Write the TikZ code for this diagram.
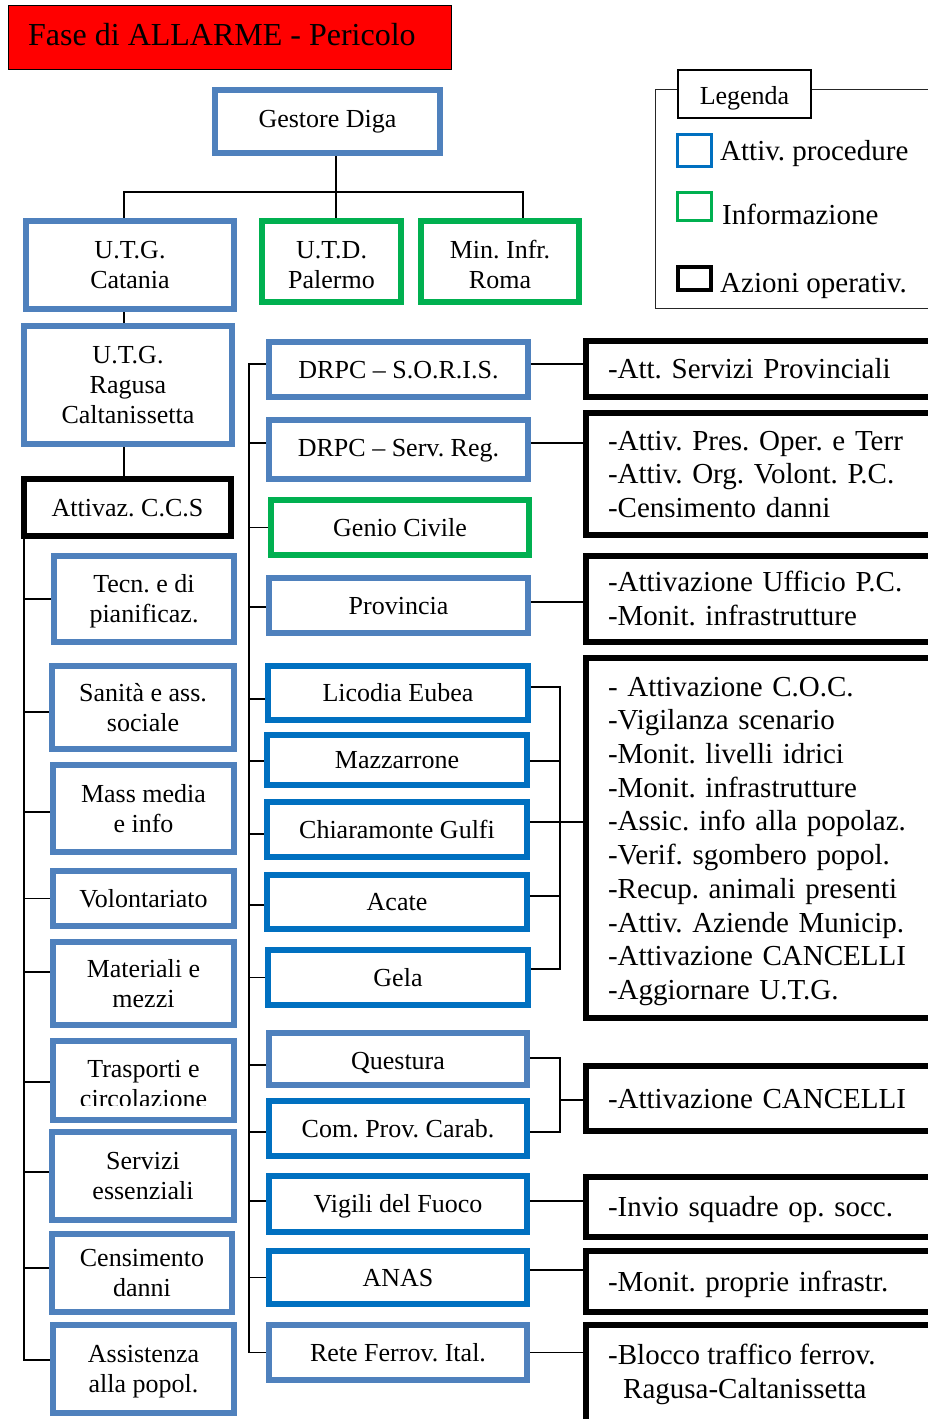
\documentclass[tikz,border=0pt]{standalone}
\usepackage{fontspec}
\setmainfont{Liberation Serif}
\usetikzlibrary{calc}
\definecolor{steelc}{RGB}{79,129,189}
\definecolor{brightc}{RGB}{0,112,192}
\definecolor{greenc}{RGB}{0,176,80}
\newcommand\boxfnt{\fontsize{26}{30}\selectfont}
\newcommand\opfnt{\fontsize{29}{33.7}\selectfont}
\newcommand\legfnt{\fontsize{29}{33}\selectfont}
\newcommand\titlefnt{\fontsize{32}{36}\selectfont}
\newcommand\wstrut{\rule[-0.216em]{0pt}{1.107em}}
\newcommand\W{\wstrut}
\newcommand\Wlow{\rule[-0.216em]{0pt}{35pt}}
\pgfdeclarelayer{bg}
\pgfsetlayers{bg,main}
\frenchspacing
\begin{document}
\begin{tikzpicture}[x=1pt,y=-1pt,
  wtext/.style={execute at end node=\wstrut},
  base/.style={fill=white, line width=6pt, font=\boxfnt, align=center, inner sep=0pt, outer sep=0pt, wtext},
  sbox/.style={base, draw=steelc},
  bbox/.style={base, draw=brightc},
  gbox/.style={base, draw=greenc},
  kbox/.style={base, draw=black},
  obox/.style={draw=black, fill=white, line width=6pt, font=\opfnt, align=left, text width=340pt, inner xsep=22pt, inner ysep=0pt, anchor=west, outer sep=0pt, wtext},
  conn/.style={line width=1.5pt, black},
  legtxt/.style={font=\legfnt, inner sep=0pt, anchor=west, wtext}
]
\useasboundingbox (0,0) rectangle (928,1419);
\clip (0,0) rectangle (928,1419);

% title
\node[draw=black, line width=1pt, fill=red, minimum width=443pt, minimum height=64pt, inner sep=0pt] (title) at (230,37.5) {};
\node[anchor=base west, font=\titlefnt, inner sep=0pt] (titletxt) at (28,45) {Fase di ALLARME - Pericolo};

% top
\node[sbox, minimum width=225pt, minimum height=63pt] (gestore) at (327.5,121.5) {\W\raisebox{2.5pt}{Gestore Diga}};
\node[sbox, minimum width=208pt, minimum height=88pt] (utgc) at (130,265) {\W U.T.G.\\Catania};
\node[gbox, minimum width=139pt, minimum height=81pt] (utd) at (331.5,261.5) {\Wlow U.T.D.\\Palermo};
\node[gbox, minimum width=158pt, minimum height=81pt] (minf) at (500,261.5) {\Wlow Min. Infr.\\Roma};
\node[sbox, minimum width=208pt, minimum height=118pt] (utgr) at (128,385) {\W U.T.G.\\Ragusa\\Caltanissetta};
\node[kbox, minimum width=207pt, minimum height=57pt] (ccs) at (127.5,507.5) {\W Attivaz. C.C.S};

% left column
\node[sbox, minimum width=180pt, minimum height=86pt] (tecn) at (144,599) {\W Tecn. e di\\pianificaz.};
\node[sbox, minimum width=182pt, minimum height=83pt] (sanita) at (143,707.5) {\W Sanità e ass.\\sociale};
\node[sbox, minimum width=181pt, minimum height=87pt] (mass) at (143.5,808.5) {\W Mass media\\e info};
\node[sbox, minimum width=181pt, minimum height=55pt] (volont) at (143.5,898.5) {\W Volontariato};
\node[sbox, minimum width=181pt, minimum height=83pt] (mater) at (143.5,983.5) {\W Materiali e\\mezzi};
\node[sbox, minimum width=181pt, minimum height=79pt] (trasp) at (143.5,1080.5) {};
\begin{scope}
  \clip (50,1041) rectangle (237,1105);
  \node[font=\boxfnt, align=center, inner sep=0pt, wtext] (trasptxt) at (143.5,1083.3) {\W Trasporti e\\circolazione};
\end{scope}
\node[sbox, minimum width=182pt, minimum height=88pt] (serv) at (143,1176) {\W Servizi\\essenziali};
\node[sbox, minimum width=180pt, minimum height=78pt] (cens) at (142,1273) {\W Censimento\\danni};
\node[sbox, minimum width=181pt, minimum height=88pt] (assist) at (143.5,1369) {\W Assistenza\\alla popol.};

% middle column
\node[sbox, minimum width=259pt, minimum height=55pt] (soris) at (398.5,369.5) {\W DRPC – S.O.R.I.S.};
\node[sbox, minimum width=259pt, minimum height=59pt] (servreg) at (398.5,449.5) {\W\raisebox{1.5pt}{DRPC – Serv. Reg.}};
\node[gbox, minimum width=258pt, minimum height=55pt] (genio) at (400,527.5) {\W Genio Civile};
\node[sbox, minimum width=259pt, minimum height=55pt] (prov) at (398.5,605.5) {\W Provincia};
\node[bbox, minimum width=260pt, minimum height=54pt] (licodia) at (398,693) {\W Licodia Eubea};
\node[bbox, minimum width=260pt, minimum height=50pt] (mazz) at (397,760) {\W Mazzarrone};
\node[bbox, minimum width=260pt, minimum height=55pt] (chiar) at (397,829.5) {\W Chiaramonte Gulfi};
\node[bbox, minimum width=260pt, minimum height=54pt] (acate) at (397,902) {\W Acate};
\node[bbox, minimum width=260pt, minimum height=55pt] (gela) at (398,977.5) {\W Gela};
\node[sbox, minimum width=258pt, minimum height=52pt] (quest) at (398,1059) {\W\raisebox{-2pt}{Questura}};
\node[bbox, minimum width=258pt, minimum height=55pt] (comprov) at (398,1128.5) {\W Com. Prov. Carab.};
\node[bbox, minimum width=258pt, minimum height=56pt] (vigili) at (398,1204) {\W Vigili del Fuoco};
\node[bbox, minimum width=258pt, minimum height=53pt] (anas) at (398,1277.5) {\W ANAS};
\node[sbox, minimum width=258pt, minimum height=55pt] (rete) at (398,1352.5) {\W Rete Ferrov. Ital.};

% right column (operations)
\node[obox, minimum height=56pt] (b1) at (586,369) {\W-Att. Servizi Provinciali};
\node[obox, minimum height=122pt] (b2) at (586,474) {\W-Attiv. Pres. Oper. e Terr\\-Attiv. Org. Volont. P.C.\\-Censimento danni};
\node[obox, minimum height=86pt] (b3) at (586,599) {\W-Attivazione Ufficio P.C.\\-Monit. infrastrutture};
\node[obox, minimum height=360pt] (b4) at (586,838) {\W- Attivazione C.O.C.\\-Vigilanza scenario\\-Monit. livelli idrici\\-Monit. infrastrutture\\-Assic. info alla popolaz.\\-Verif. sgombero popol.\\-Recup. animali presenti\\-Attiv. Aziende Municip.\\-Attivazione CANCELLI\\-Aggiornare U.T.G.};
\node[obox, minimum height=65pt] (b5) at (586,1098.5) {\W-Attivazione CANCELLI};
\node[obox, minimum height=60pt] (b6) at (586,1207) {\W-Invio squadre op. socc.};
\node[obox, minimum height=61pt] (b7) at (586,1281.5) {\W-Monit. proprie infrastr.};
\node[obox, minimum height=110pt] (b8) at (586,1380) {};
\node[font=\opfnt, align=left, inner sep=0pt, anchor=west, wtext] (b8t) at (608,1371.5) {\W-Blocco traffico ferrov.\\\hspace*{15pt}Ragusa-Caltanissetta};

% legend
\node[draw=black!85, line width=1pt, minimum width=300pt, minimum height=219pt, anchor=north west, inner sep=0pt] (legframe) at (655,89) {};
\node[draw=black, line width=1.5pt, fill=white, minimum width=133pt, minimum height=48pt, font=\boxfnt, inner sep=0pt, wtext] (legenda) at (744.5,94) {\W\raisebox{-2.5pt}{Legenda}};
\node[draw=brightc, line width=3pt, minimum width=34pt, minimum height=32pt, inner sep=0pt] (lb) at (694.5,150.5) {};
\node[draw=greenc, line width=3pt, minimum width=34pt, minimum height=28pt, inner sep=0pt] (lg) at (694.5,206.5) {};
\node[draw=black, line width=4pt, minimum width=33pt, minimum height=23pt, inner sep=0pt] (lk) at (694.5,278.5) {};
\node[legtxt] (lt1) at (720,151) {\W Attiv. procedure};
\node[legtxt] (lt2) at (722,214.5) {\W Informazione};
\node[legtxt] (lt3) at (720,283) {\W Azioni operativ.};

% connectors
\begin{pgfonlayer}{bg}
\fill[white] (0,0) rectangle (928,1419);
\coordinate (jt) at (336,192);
\coordinate (jl) at (124,192);
\coordinate (jr) at (523,192);
\draw[conn] (jt |- gestore.south) -- (jt |- utd.north);
\draw[conn] (jl |- utgc.north) -- (jl) -- (jr) -- (jr |- minf.north);
\coordinate (jc) at (124,0);
\draw[conn] (jc |- utgc.south) -- (jc |- utgr.north);
\draw[conn] (jc |- utgr.south) -- (jc |- ccs.north);
\coordinate (ls) at (24,0);
\foreach \nn/\yy in {tecn/0, sanita/-4.5, mass/-3.5, volont/0, mater/11.5, trasp/-1.5, serv/4, cens/5, assist/9}
  \draw[conn] (ls |- ccs.south) |- ([yshift=\yy pt]\nn.west);
\coordinate (rs) at (249,0);
\foreach \nn/\yy in {soris/5.5, servreg/6.5, genio/0, prov/-1.5, licodia/-6, mazz/-1, chiar/-4.5, acate/-3, gela/0, quest/-6, comprov/-3.5, vigili/3, anas/0, rete/0}
  \draw[conn] ([yshift=\yy pt]\nn.west) -| (rs |- rete.west);
\draw[conn] ([yshift=5.5pt]soris.east) -| (b1.center);
\draw[conn] ([yshift=6.5pt]servreg.east) -| (b2.center);
\draw[conn] ([yshift=3.5pt]prov.east) -| (b3.center);
\coordinate (j4) at (560,822);
\foreach \nn/\yy in {licodia/6, mazz/-1, chiar/7.5, acate/6, gela/8.5}
  \draw[conn] ([yshift=\yy pt]\nn.east) -| (j4);
\draw[conn] (j4) -- (j4 -| b4.west);
\coordinate (j5) at (560,1100);
\foreach \nn/\yy in {quest/1, comprov/-3.5}
  \draw[conn] ([yshift=\yy pt]\nn.east) -| (j5);
\draw[conn] (j5) -- (j5 -| b5.west);
\draw[conn] ([yshift=3pt]vigili.east) -| (b6.center);
\draw[conn] ([yshift=7.5pt]anas.east) -| (b7.center);
\draw[conn] (rete.east) -| (b8.center);
\end{pgfonlayer}
\end{tikzpicture}
\end{document}
